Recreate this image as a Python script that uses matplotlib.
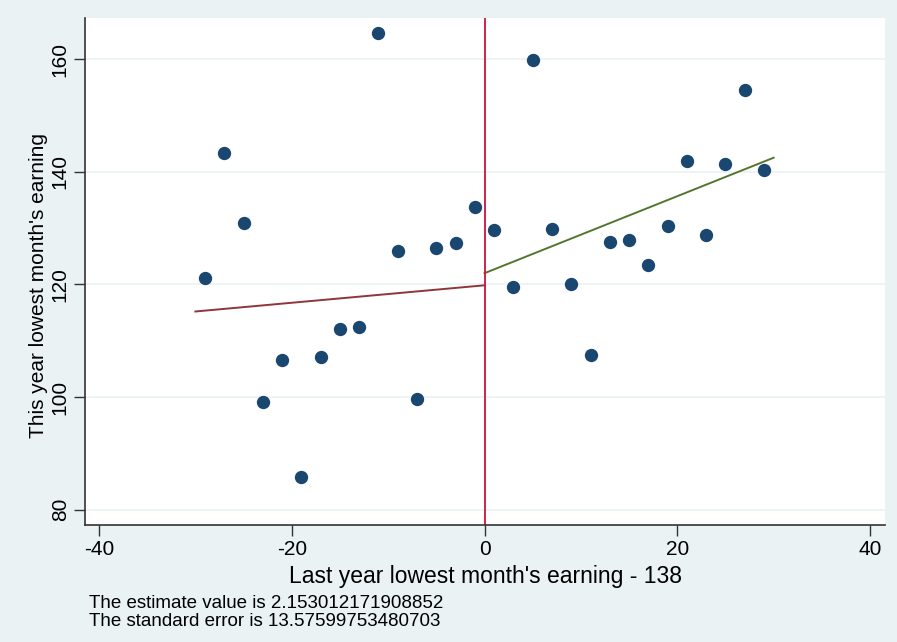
import numpy as np
import matplotlib
matplotlib.use("Agg")
import matplotlib.pyplot as plt

# running variable (last year lowest month's earning - 138) and outcome
x = [-29, -27, -25, -23, -21, -19, -17, -15, -13, -11, -9, -7, -5, -3, -1,
     1, 3, 5, 7, 9, 11, 13, 15, 17, 19, 21, 23, 25, 27, 29]
y = [121.1, 143.3, 130.9, 99.2, 106.6, 85.9, 107.2, 112.1, 112.5, 164.6,
     126.0, 99.7, 126.4, 127.4, 133.8,
     129.6, 119.6, 159.9, 129.9, 120.05, 107.5, 127.5, 127.9, 123.4, 130.4,
     142.0, 128.8, 141.3, 154.6, 140.4]

# fitted lines on each side of the cutoff
left_fit_x = [-30, 0]
left_fit_y = [115.2, 119.85]
right_fit_x = [0, 30]
right_fit_y = [122.0, 142.5]

cutoff = 0
estimate = 2.153012171908852
std_err = 13.57599753480703

xticks = [-40, -20, 0, 20, 40]
yticks = [80, 100, 120, 140, 160]

plt.rcParams['font.family'] = ['Liberation Sans', 'DejaVu Sans']
plt.rcParams['axes.unicode_minus'] = False

bg = '#EAF2F3'
fig = plt.figure(figsize=(8.97, 6.42), dpi=100, facecolor=bg)
ax = fig.add_axes([85/897, 1-525/642, 800/897, 507/642])
ax.set_facecolor('white')

ax.set_xlim(-41.45, 41.55)
ax.set_ylim(77.3, 167.3)

for t in yticks:
    ax.axhline(t, color=bg, lw=1.2, zorder=0)

ax.plot(left_fit_x, left_fit_y, color='#90353B', lw=1.4, zorder=2)
ax.plot(right_fit_x, right_fit_y, color='#55752F', lw=1.4, zorder=2)
ax.axvline(cutoff, color='#D0103A', lw=1.3, zorder=2)
ax.scatter(x, y, s=92, color='#1A476F', zorder=3, linewidths=0)

ax.set_xticks(xticks)
ax.set_yticks(yticks)
ax.tick_params(axis='both', length=8, width=1, color='#333333', labelsize=15, pad=3)
ax.tick_params(axis='y', labelrotation=90)
for lab in ax.get_yticklabels():
    lab.set_va('center')

for s in ['top', 'right']:
    ax.spines[s].set_visible(False)
for s in ['left', 'bottom']:
    ax.spines[s].set_color('#333333')
    ax.spines[s].set_linewidth(1.2)

fig.text(485/897, 1-577/642, "Last year lowest month's earning - 138",
         ha='center', va='center', fontsize=16.5)
fig.text(38/897, 1-286/642, "This year lowest month's earning",
         ha='center', va='center', rotation=90, fontsize=15)
fig.text(89/897, 1-604/642, "The estimate value is " + str(estimate),
         ha='left', va='center', fontsize=13.5)
fig.text(89/897, 1-622/642, "The standard error is " + str(std_err),
         ha='left', va='center', fontsize=13.5)

fig.savefig('out.png', dpi=100, facecolor=bg)
